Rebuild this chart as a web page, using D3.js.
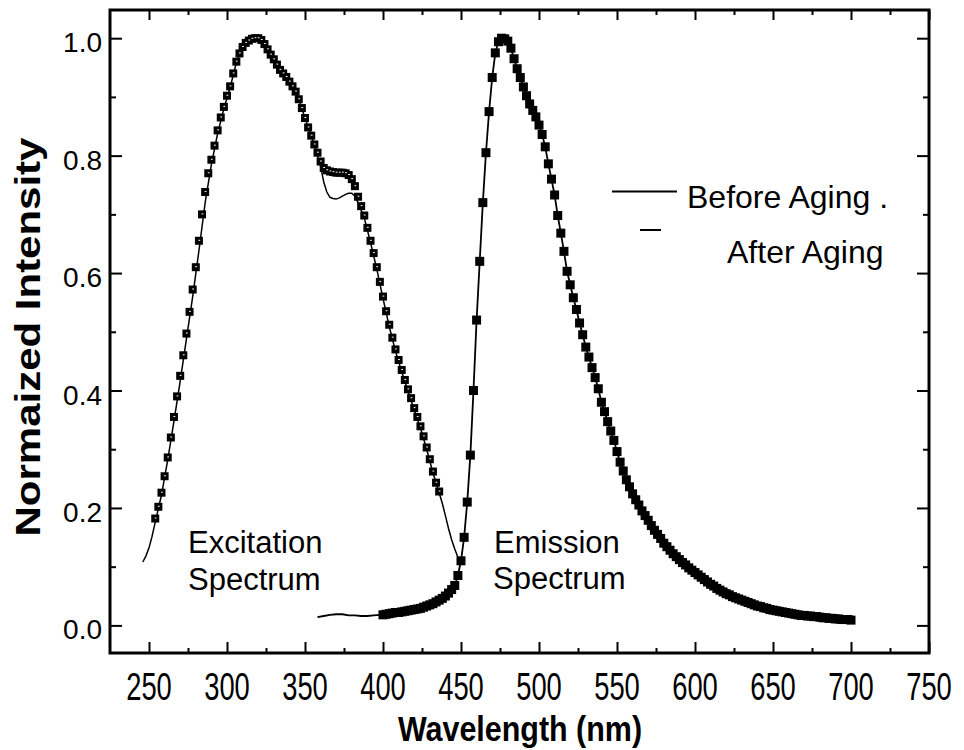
<!DOCTYPE html>
<html>
<head>
<meta charset="utf-8">
<script src="https://cdn.jsdelivr.net/npm/d3@7"></script>
<style>
body{margin:0;background:#fff;}
text{font-family:"Liberation Sans",Arial,sans-serif;fill:#000;}
</style>
</head>
<body>
<div class="chart"></div>
<script>
// excitation spectrum, after aging (squares)
const exAfterNm = [254,256,258,260,262,264,266,268,270,272,274,276,278,280,282,284,286,288,290,292,294,296,298,300,302,304,306,308,310,312,314,316,318,320,322,324,326,328,330,332,334,336,338,340,342,344,346,348,350,352,354,356,358,360,362,364,366,368,370,372,374,376,378,380,382,384,386,388,390,392,394,396,398,400,402,404,406,408,410,412,414,416,418,420,422,424,426,428,430,432,434,436];
const exAfterVal = [0.182,0.202,0.226,0.254,0.286,0.32,0.355,0.39,0.425,0.46,0.497,0.534,0.572,0.61,0.655,0.7,0.738,0.77,0.793,0.817,0.843,0.865,0.883,0.902,0.918,0.94,0.96,0.974,0.985,0.992,0.996,0.999,1.0,1.0,0.997,0.99,0.981,0.972,0.964,0.955,0.946,0.94,0.934,0.926,0.918,0.909,0.896,0.881,0.864,0.848,0.834,0.819,0.805,0.79,0.779,0.775,0.773,0.772,0.771,0.771,0.771,0.77,0.767,0.76,0.748,0.73,0.714,0.698,0.677,0.655,0.634,0.61,0.585,0.56,0.535,0.512,0.49,0.47,0.452,0.435,0.418,0.402,0.387,0.37,0.355,0.339,0.322,0.303,0.283,0.262,0.243,0.228];

// excitation spectrum, before aging (thin line)
const exBeforeNm = [246,248,250,252,254,258,262,266,270,274,278,282,286,290,294,298,302,306,310,314,318,322,326,330,334,338,342,346,350,354,356,358,360,362,364,366,368,370,372,374,376,378,380,382,384,386,388,392,396,400,404,408,412,416,420,424,428,432,436,438,440,442,444,446,448,450];
const exBeforeVal = [0.108,0.118,0.132,0.152,0.176,0.222,0.282,0.348,0.416,0.488,0.56,0.638,0.72,0.785,0.838,0.88,0.916,0.958,0.985,0.998,1.0,0.997,0.981,0.964,0.946,0.934,0.918,0.896,0.864,0.834,0.818,0.8,0.782,0.755,0.738,0.729,0.727,0.726,0.728,0.731,0.734,0.736,0.736,0.731,0.72,0.707,0.694,0.652,0.607,0.557,0.509,0.467,0.432,0.399,0.367,0.336,0.3,0.26,0.226,0.208,0.187,0.165,0.146,0.13,0.116,0.106];

// emission spectrum (squares, before and after overlap)
const emNm = [400,402,404,406,408,410,412,414,416,418,420,422,424,426,428,430,432,434,436,438,440,442,444,446,448,450,452,454,456,458,460,462,464,466,468,470,472,474,476,478,480,482,484,486,488,490,492,494,496,498,500,502,504,506,508,510,512,514,516,518,520,522,524,526,528,530,532,534,536,538,540,542,544,546,548,550,552,554,556,558,560,562,564,566,568,570,572,574,576,578,580,582,584,586,588,590,592,594,596,598,600,602,604,606,608,610,612,614,616,618,620,622,624,626,628,630,632,634,636,638,640,642,644,646,648,650,652,654,656,658,660,662,664,666,668,670,672,674,676,678,680,682,684,686,688,690,692,694,696,698,700];
const emVal = [0.018,0.019,0.02,0.021,0.022,0.022,0.023,0.024,0.025,0.026,0.027,0.028,0.029,0.031,0.033,0.035,0.037,0.04,0.043,0.046,0.05,0.055,0.061,0.068,0.085,0.11,0.15,0.21,0.29,0.4,0.52,0.62,0.72,0.805,0.875,0.933,0.975,0.994,1.0,0.999,0.995,0.983,0.965,0.948,0.933,0.917,0.902,0.888,0.877,0.866,0.852,0.836,0.815,0.786,0.76,0.733,0.698,0.668,0.637,0.603,0.58,0.558,0.538,0.515,0.495,0.474,0.457,0.439,0.422,0.403,0.38,0.364,0.347,0.331,0.315,0.296,0.278,0.263,0.248,0.236,0.224,0.214,0.205,0.195,0.187,0.179,0.17,0.162,0.155,0.148,0.14,0.134,0.128,0.122,0.117,0.112,0.107,0.103,0.098,0.094,0.09,0.086,0.082,0.078,0.074,0.07,0.067,0.063,0.06,0.057,0.054,0.052,0.049,0.047,0.045,0.043,0.041,0.039,0.037,0.035,0.033,0.032,0.03,0.029,0.027,0.026,0.025,0.024,0.023,0.022,0.021,0.02,0.019,0.018,0.017,0.017,0.016,0.016,0.015,0.015,0.014,0.013,0.013,0.012,0.012,0.011,0.011,0.01,0.01,0.01,0.009];

// thin lead-in of the emission line before the squares start
const emLeadNm = [358,362,366,370,374,378,382,386,390,394,398];
const emLeadVal = [0.014,0.016,0.018,0.019,0.019,0.017,0.017,0.016,0.016,0.017,0.018];

const xMajor = [250,300,350,400,450,500,550,600,650,700,750];
const xMinor = [275,325,375,425,475,525,575,625,675,725];
const yMajor = [0.0,0.2,0.4,0.6,0.8,1.0];
const yMinor = [0.1,0.3,0.5,0.7,0.9];

const legendLabels = ['Before Aging .','After Aging'];

const width = 964, height = 750;
const svg = d3.select('.chart').append('svg')
    .attr('width', width)
    .attr('height', height);

const x = d3.scaleLinear().domain([225, 750]).range([110, 929]);
const y = d3.scaleLinear().domain([-0.047, 1.048]).range([653, 10]);

// ticks, all pointing inward
function ticks(axis, vals, len, transform){
    svg.append('g')
        .attr('transform', transform)
        .call(axis.tickValues(vals).tickSize(len).tickSizeOuter(0).tickFormat(''))
        .call(g=>g.select('.domain').remove())
        .call(g=>g.selectAll('line').attr('stroke','#000').attr('stroke-width',2));
}
ticks(d3.axisBottom(x), xMajor, -11, 'translate(0,653)');
ticks(d3.axisBottom(x), xMinor, -5, 'translate(0,653)');
ticks(d3.axisTop(x), xMajor, -10, 'translate(0,10)');
ticks(d3.axisTop(x), xMinor, -5, 'translate(0,10)');
ticks(d3.axisLeft(y), yMajor, -12, 'translate(110,0)');
ticks(d3.axisLeft(y), yMinor, -6, 'translate(110,0)');
ticks(d3.axisRight(y), yMajor, -12, 'translate(929,0)');
ticks(d3.axisRight(y), yMinor, -6, 'translate(929,0)');

// tick labels (x ones are narrow in the original)
svg.append('g').selectAll('text')
    .data(xMajor)
    .enter()
    .append('text')
    .text(d=>d)
    .attr('transform', d=>'translate('+x(d)+',700) scale(0.72,1)')
    .attr('text-anchor','middle')
    .attr('font-size',38);

svg.append('g').selectAll('text')
    .data(yMajor)
    .enter()
    .append('text')
    .text(d=>d.toFixed(1))
    .attr('x',102)
    .attr('y',d=>y(d)+14)
    .attr('text-anchor','end')
    .attr('font-size',28);

// frame
svg.append('rect')
    .attr('x',110).attr('y',10)
    .attr('width',819).attr('height',643)
    .attr('fill','none')
    .attr('stroke','#000')
    .attr('stroke-width',3);

const line = d3.line().x(d=>x(d[0])).y(d=>y(d[1]));

// before aging lines
svg.append('path')
    .datum(exBeforeNm.map((d,i)=>[d, exBeforeVal[i]]))
    .attr('d', line)
    .attr('fill','none').attr('stroke','#000').attr('stroke-width',1.5);

svg.append('path')
    .datum(emLeadNm.map((d,i)=>[d, emLeadVal[i]]).concat(emNm.map((d,i)=>[d, emVal[i]])))
    .attr('d', line)
    .attr('fill','none').attr('stroke','#000').attr('stroke-width',1.8);

// after aging squares, excitation (black with a white speck)
const exPts = exAfterNm.map((d,i)=>[d, exAfterVal[i]]);
svg.append('g').selectAll('rect')
    .data(exPts)
    .enter()
    .append('rect')
    .attr('x',d=>x(d[0])-4)
    .attr('y',d=>y(d[1])-4)
    .attr('width',8).attr('height',8)
    .attr('fill','#000');
svg.append('g').selectAll('rect')
    .data(exPts)
    .enter()
    .append('rect')
    .attr('x',d=>x(d[0])-0.5)
    .attr('y',d=>y(d[1])-1)
    .attr('width',1.8).attr('height',1)
    .attr('fill','#fff');

// emission squares
svg.append('g').selectAll('rect')
    .data(emNm.map((d,i)=>[d, emVal[i]]))
    .enter()
    .append('rect')
    .attr('x',d=>x(d[0])-4.5)
    .attr('y',d=>y(d[1])-4.5)
    .attr('width',9).attr('height',9)
    .attr('fill','#000');

// legend
svg.append('line')
    .attr('x1',612).attr('x2',677).attr('y1',191.5).attr('y2',191.5)
    .attr('stroke','#000').attr('stroke-width',2);
svg.append('line')
    .attr('x1',640).attr('x2',661).attr('y1',230).attr('y2',230)
    .attr('stroke','#000').attr('stroke-width',2);
svg.append('text').text(legendLabels[0])
    .attr('x',687).attr('y',208).attr('font-size',32);
svg.append('text').text(legendLabels[1])
    .attr('x',727).attr('y',263).attr('font-size',32);

// annotations
svg.append('text').text('Excitation').attr('x',188).attr('y',553).attr('font-size',31);
svg.append('text').text('Spectrum').attr('x',188).attr('y',590).attr('font-size',31);
svg.append('text').text('Emission').attr('x',494).attr('y',553).attr('font-size',31);
svg.append('text').text('Spectrum').attr('x',493).attr('y',589).attr('font-size',31);

// axis titles
svg.append('text').text('Wavelength (nm)')
    .attr('transform','translate(520,741) scale(0.87,1)')
    .attr('text-anchor','middle')
    .attr('font-weight','bold')
    .attr('font-size',35);
svg.append('text').text('Normaized Intensity')
    .attr('transform','translate(40,337) rotate(-90) scale(1.2,1)')
    .attr('text-anchor','middle')
    .attr('font-weight','bold')
    .attr('font-size',35);
</script>
</body>
</html>
